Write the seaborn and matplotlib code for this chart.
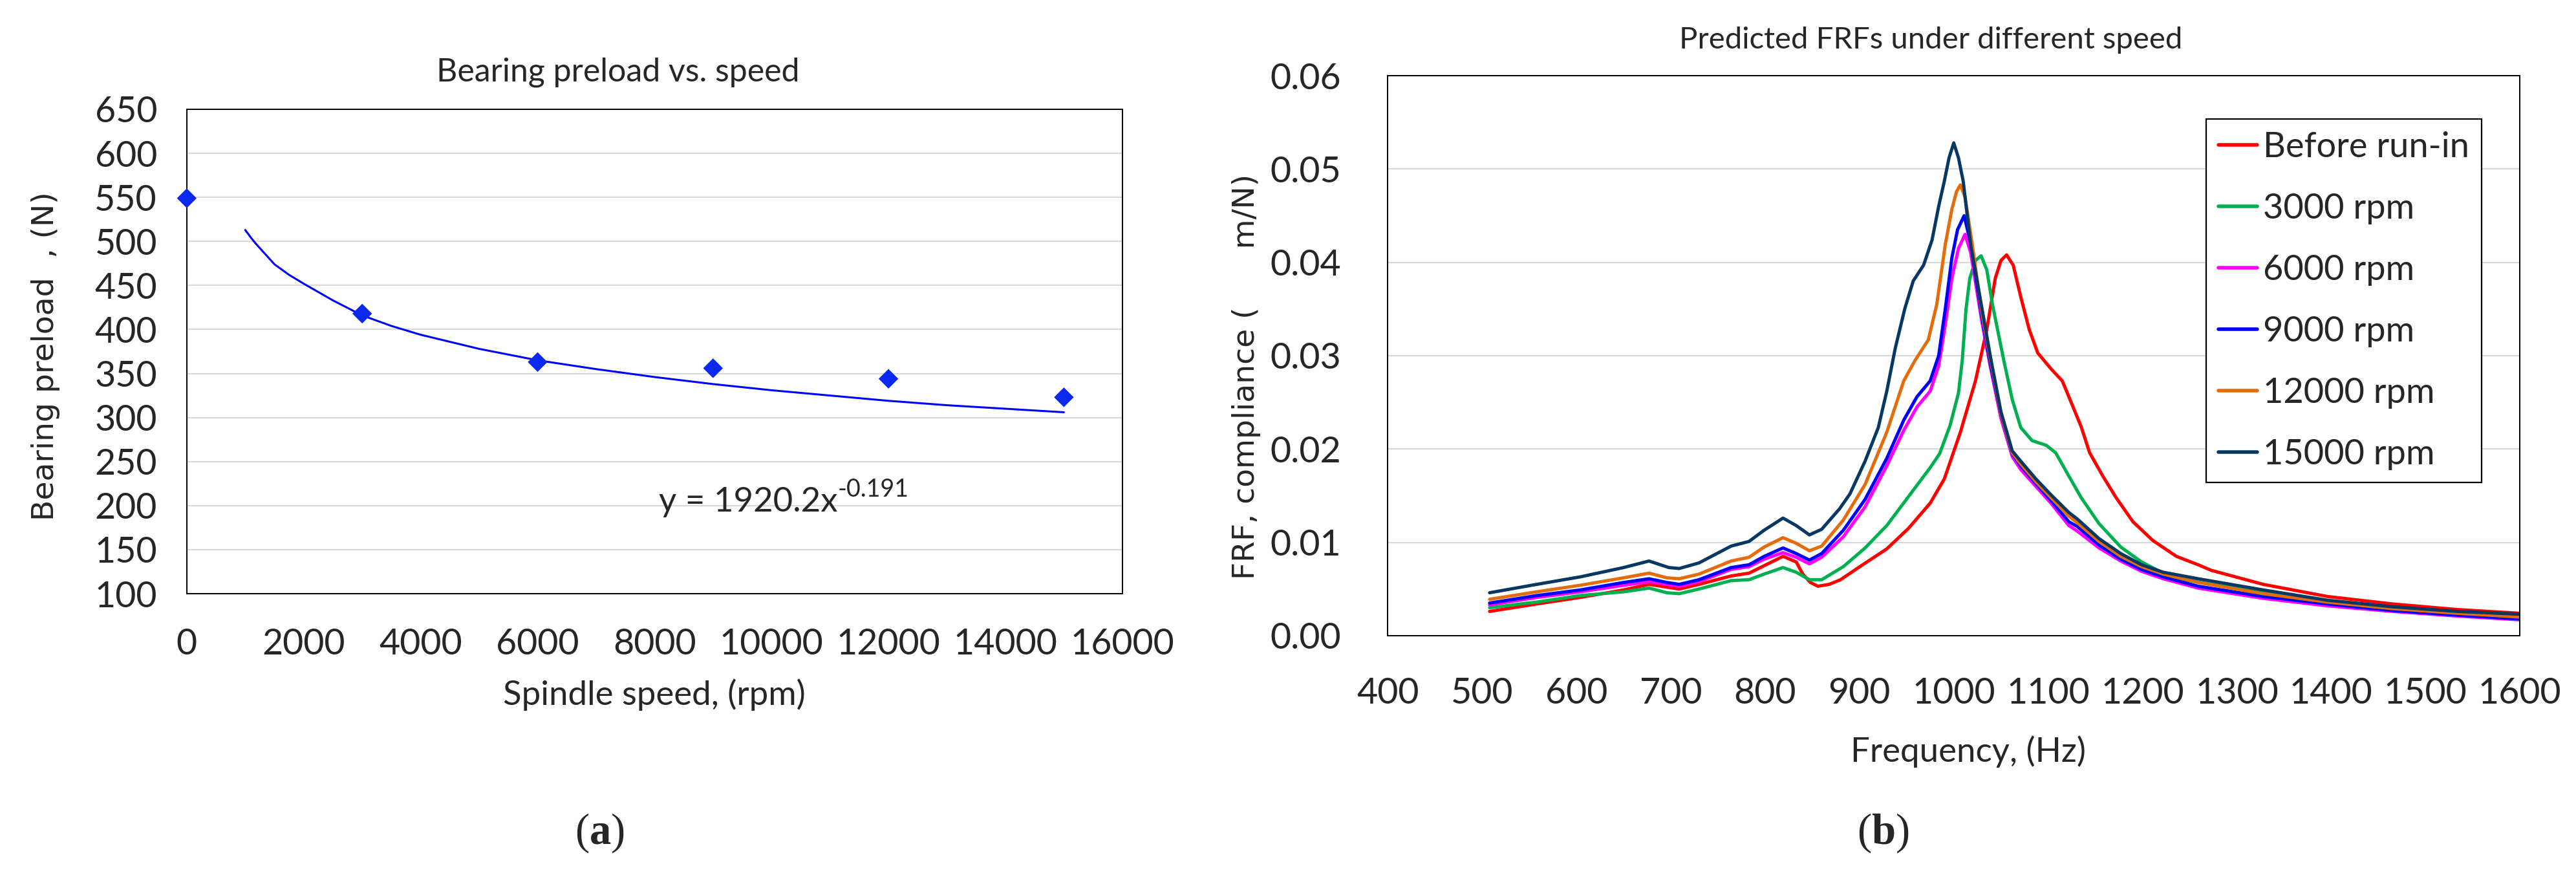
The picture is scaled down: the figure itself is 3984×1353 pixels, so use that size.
import matplotlib
matplotlib.use('Agg')
import matplotlib.pyplot as plt
import numpy as np
import pandas as pd
import seaborn as sns

sns.set_style('white')
plt.rcParams['font.family'] = ['Lato', 'DejaVu Sans']
plt.rcParams['mathtext.fontset'] = 'custom'
plt.rcParams['mathtext.rm'] = 'Liberation Serif'
plt.rcParams['mathtext.bf'] = 'Liberation Serif:bold'
plt.rcParams['axes.unicode_minus'] = False

# ---- (a) bearing preload vs. speed ----
speed = [0, 3000, 6000, 9000, 12000, 15000]
preload = [549, 418, 363, 356, 344, 323]
# power trendline
trend_speed = [1000, 1100, 1200, 1350, 1500, 1750, 2000, 2500, 3000, 3500, 4000, 5000, 6000,
               7000, 8000, 9000, 10000, 11000, 12000, 13000, 14000, 15000]
trend_preload = [513, 504, 496, 485, 474, 462, 452, 433, 416, 404, 394, 378, 365,
                 355, 346, 338, 331, 325, 319, 314, 310, 306]

# ---- (b) predicted FRFs ----
series_names = ['Before run-in', '3000 rpm', '6000 rpm', '9000 rpm', '12000 rpm', '15000 rpm']
series_colors = ['#FF0000', '#00B050', '#FF00FF', '#0000FF', '#E46C0A', '#073763']

red_freq = [508, 558, 604, 650, 677, 696, 709, 730, 764, 783, 799, 819, 833, 840, 848, 856, 868, 880, 902, 929,
            952, 975, 990, 1007, 1023, 1035, 1044, 1050, 1056, 1063, 1071, 1080, 1089, 1103, 1115, 1122, 1135,
            1144, 1158, 1172, 1190, 1211, 1236, 1259, 1273, 1328, 1396, 1465, 1534, 1600]
red_frf = [0.0026, 0.0034, 0.0041, 0.0049, 0.0055, 0.0052, 0.0050, 0.0055, 0.0064, 0.0067, 0.0075, 0.0085, 0.0079,
           0.0066, 0.0057, 0.0053, 0.0055, 0.0060, 0.0075, 0.0093, 0.0115, 0.0142, 0.0168, 0.0218, 0.0273, 0.0328,
           0.0383, 0.0402, 0.0408, 0.0397, 0.0363, 0.0328, 0.0303, 0.0286, 0.0273, 0.0256, 0.0224, 0.0196, 0.0171,
           0.0148, 0.0122, 0.0102, 0.0085, 0.0076, 0.0070, 0.0055, 0.0042, 0.0034, 0.0028, 0.0024]

green_freq = [508, 558, 604, 650, 677, 696, 709, 730, 764, 783, 799, 819, 833, 847, 860, 883, 906, 929, 952, 975,
              985, 996, 1005, 1009, 1013, 1017, 1023, 1029, 1035, 1041, 1053, 1062, 1071, 1083, 1098, 1108, 1122,
              1135, 1154, 1177, 1199, 1222, 1245, 1273, 1328, 1396, 1465, 1534, 1600]
green_frf = [0.0030, 0.0036, 0.0043, 0.0047, 0.0051, 0.0046, 0.0045, 0.0050, 0.0059, 0.0060, 0.0066, 0.0073, 0.0068,
             0.0060, 0.0060, 0.0074, 0.0094, 0.0118, 0.0149, 0.0180, 0.0195, 0.0225, 0.0260, 0.0295, 0.0350, 0.0383,
             0.0402, 0.0407, 0.0392, 0.0355, 0.0295, 0.0253, 0.0223, 0.0209, 0.0204, 0.0196, 0.0171, 0.0148, 0.0120,
             0.0095, 0.0079, 0.0067, 0.0060, 0.0055, 0.0047, 0.0037, 0.0030, 0.0025, 0.0022]

magenta_freq = [508, 558, 604, 650, 677, 696, 709, 730, 764, 783, 799, 819, 833, 847, 860, 883, 906, 929, 947, 961,
                975, 984, 991, 998, 1005, 1012, 1018, 1030, 1039, 1050, 1062, 1071, 1087, 1103, 1122, 1131, 1154,
                1177, 1199, 1222, 1259, 1328, 1396, 1465, 1534, 1600]
magenta_frf = [0.0033, 0.0041, 0.0047, 0.0054, 0.0058, 0.0055, 0.0053, 0.0058, 0.0071, 0.0074, 0.0082, 0.0089,
               0.0084, 0.0077, 0.0084, 0.0106, 0.0138, 0.0182, 0.0220, 0.0245, 0.0262, 0.0289, 0.0333, 0.0383,
               0.0415, 0.0430, 0.0410, 0.0335, 0.0287, 0.0233, 0.0192, 0.0178, 0.0160, 0.0142, 0.0118, 0.0112,
               0.0094, 0.0080, 0.0069, 0.0061, 0.0051, 0.0040, 0.0032, 0.0026, 0.0021, 0.0017]

blue_freq = [508, 558, 604, 650, 677, 696, 709, 730, 764, 783, 799, 819, 833, 847, 860, 883, 906, 929, 947, 961,
             975, 984, 991, 998, 1004, 1011, 1018, 1030, 1039, 1050, 1062, 1071, 1087, 1103, 1122, 1131, 1154,
             1177, 1199, 1222, 1259, 1328, 1396, 1465, 1534, 1600]
blue_frf = [0.0035, 0.0043, 0.0049, 0.0057, 0.0061, 0.0057, 0.0055, 0.0060, 0.0073, 0.0076, 0.0085, 0.0094, 0.0088,
            0.0081, 0.0088, 0.0113, 0.0146, 0.0190, 0.0231, 0.0256, 0.0273, 0.0300, 0.0350, 0.0405, 0.0435, 0.0450,
            0.0420, 0.0340, 0.0290, 0.0237, 0.0195, 0.0182, 0.0163, 0.0145, 0.0122, 0.0117, 0.0097, 0.0082, 0.0071,
            0.0063, 0.0053, 0.0042, 0.0034, 0.0027, 0.0022, 0.0018]

orange_freq = [508, 558, 604, 650, 677, 696, 709, 730, 764, 783, 799, 819, 833, 847, 860, 883, 906, 929, 947, 959,
               973, 982, 991, 998, 1003, 1007, 1012, 1018, 1030, 1039, 1050, 1062, 1071, 1087, 1103, 1122, 1131,
               1154, 1177, 1199, 1222, 1259, 1328, 1396, 1465, 1534, 1600]
orange_frf = [0.0039, 0.0047, 0.0054, 0.0062, 0.0067, 0.0062, 0.0061, 0.0066, 0.0080, 0.0084, 0.0095, 0.0105,
              0.0099, 0.0091, 0.0096, 0.0124, 0.0162, 0.0218, 0.0273, 0.0295, 0.0317, 0.0355, 0.0419, 0.0457,
              0.0476, 0.0483, 0.0470, 0.0430, 0.0345, 0.0295, 0.0238, 0.0196, 0.0184, 0.0165, 0.0148, 0.0128,
              0.0121, 0.0101, 0.0085, 0.0074, 0.0066, 0.0057, 0.0045, 0.0036, 0.0029, 0.0024, 0.0020]

navy_freq = [508, 558, 604, 650, 677, 698, 709, 730, 764, 783, 799, 819, 833, 847, 860, 879, 890, 906, 920, 929,
             938, 948, 957, 968, 977, 984, 990, 995, 1000, 1005, 1010, 1018, 1030, 1039, 1050, 1062, 1071, 1087,
             1103, 1122, 1131, 1154, 1177, 1199, 1222, 1259, 1328, 1396, 1465, 1534, 1600]
navy_frf = [0.0046, 0.0055, 0.0063, 0.0073, 0.0080, 0.0073, 0.0072, 0.0078, 0.0096, 0.0101, 0.0113, 0.0126, 0.0118,
            0.0108, 0.0114, 0.0136, 0.0152, 0.0187, 0.0223, 0.0262, 0.0308, 0.0350, 0.0380, 0.0397, 0.0424, 0.0460,
            0.0487, 0.0512, 0.0528, 0.0512, 0.0487, 0.0418, 0.0350, 0.0298, 0.0240, 0.0198, 0.0187, 0.0168, 0.0151,
            0.0132, 0.0125, 0.0104, 0.0088, 0.0076, 0.0068, 0.0061, 0.0049, 0.0038, 0.0031, 0.0026, 0.0023]

freqs = [red_freq, green_freq, magenta_freq, blue_freq, orange_freq, navy_freq]
frfs = [red_frf, green_frf, magenta_frf, blue_frf, orange_frf, navy_frf]
frf_df = pd.concat(
    [pd.DataFrame({'freq': f, 'frf': v, 'series': name}) for f, v, name in zip(freqs, frfs, series_names)],
    ignore_index=True,
)

fig = plt.figure(figsize=(39.84, 13.53), dpi=100)
ax1 = fig.add_axes([0.0725, 0.3215, 0.3632, 0.5536])
ax2 = fig.add_axes([0.5387, 0.2735, 0.4395, 0.6400])

edge = 1.4
grid_c = '#D9D9D9'

# ---- left chart ----
sns.lineplot(x=trend_speed, y=trend_preload, color='#0000FF', linewidth=2.2,
             solid_joinstyle='round', ax=ax1)
sns.scatterplot(x=speed, y=preload, marker='D', s=240, color='#0A28F0', edgecolor='none',
                clip_on=False, zorder=5, ax=ax1)
ax1.set_xlim(0, 16000)
ax1.set_ylim(100, 650)
ax1.set_xticks(np.arange(0, 16001, 2000))
ax1.set_yticks(np.arange(100, 651, 50))
ax1.yaxis.grid(True, color=grid_c, linewidth=1.6)
ax1.set_axisbelow(True)
ax1.tick_params(axis='x', direction='out', length=14, width=edge, labelsize=40, pad=24)
ax1.tick_params(axis='y', direction='out', length=11, width=edge, labelsize=40, pad=22)
ax1.set_xlabel('Spindle speed, (rpm)', fontsize=38)
ax1.xaxis.set_label_coords(0.5, -0.175)
ax1.set_ylabel('Bearing preload  , (N)', fontsize=34, family=['DejaVu Sans'])
ax1.yaxis.set_label_coords(-0.135, 0.49)
ax1.text(0.461, 1.077, 'Bearing preload vs. speed', transform=ax1.transAxes,
         ha='center', va='center', fontsize=36)
eq = ax1.text(8070, 204, 'y = 1920.2x', ha='left', va='center', fontsize=38)
ax1.annotate('-0.191', xy=(1.0, 0.52), xycoords=eq, ha='left', va='bottom', fontsize=27)

# ---- right chart ----
sns.lineplot(data=frf_df, x='freq', y='frf', hue='series', hue_order=series_names,
             palette=dict(zip(series_names, series_colors)), estimator=None, sort=False,
             linewidth=3.6, solid_joinstyle='round', ax=ax2)
ax2.set_xlim(400, 1600)
ax2.set_ylim(0, 0.06)
ax2.set_xticks(np.arange(400, 1601, 100))
ax2.set_yticks(np.arange(0, 0.061, 0.01))
ax2.yaxis.set_major_formatter(matplotlib.ticker.FormatStrFormatter('%.2f'))
ax2.yaxis.grid(True, color=grid_c, linewidth=1.6)
ax2.set_axisbelow(True)
ax2.tick_params(axis='x', direction='out', length=15, width=edge, labelsize=40, pad=31)
ax2.tick_params(axis='y', direction='out', length=14, width=edge, labelsize=40, pad=38)
ax2.set_xlabel('Frequency, (Hz)', fontsize=38)
ax2.xaxis.set_label_coords(0.513, -0.178)
ax2.set_ylabel('FRF, compliance (      m/N)', fontsize=34, family=['DejaVu Sans'])
ax2.yaxis.set_label_coords(-0.112, 0.462)
ax2.text(0.48, 1.0635, 'Predicted FRFs under different speed', transform=ax2.transAxes,
         ha='center', va='center', fontsize=34)

handles, labels = ax2.get_legend_handles_labels()
leg = ax2.legend(handles, labels, loc='upper left', bbox_to_anchor=(0.723, 0.9226),
                 borderaxespad=0, fontsize=39, frameon=True, fancybox=False, framealpha=1,
                 edgecolor='black', handlelength=1.1, handletextpad=0.18, labelspacing=0.85,
                 borderpad=0.35)
leg.get_frame().set_linewidth(1.6)
for line in leg.get_lines():
    line.set_linewidth(4)

for ax in (ax1, ax2):
    for sp in ax.spines.values():
        sp.set_visible(True)
        sp.set_color('black')
        sp.set_linewidth(edge)

fig.text(0.2327, 0.048, r'($\mathbf{a}$)', ha='center', va='center', fontsize=48,
         family=['Liberation Serif'])
fig.text(0.7309, 0.048, r'($\mathbf{b}$)', ha='center', va='center', fontsize=48,
         family=['Liberation Serif'])

fig.savefig('out.png', dpi=100, facecolor='white')
